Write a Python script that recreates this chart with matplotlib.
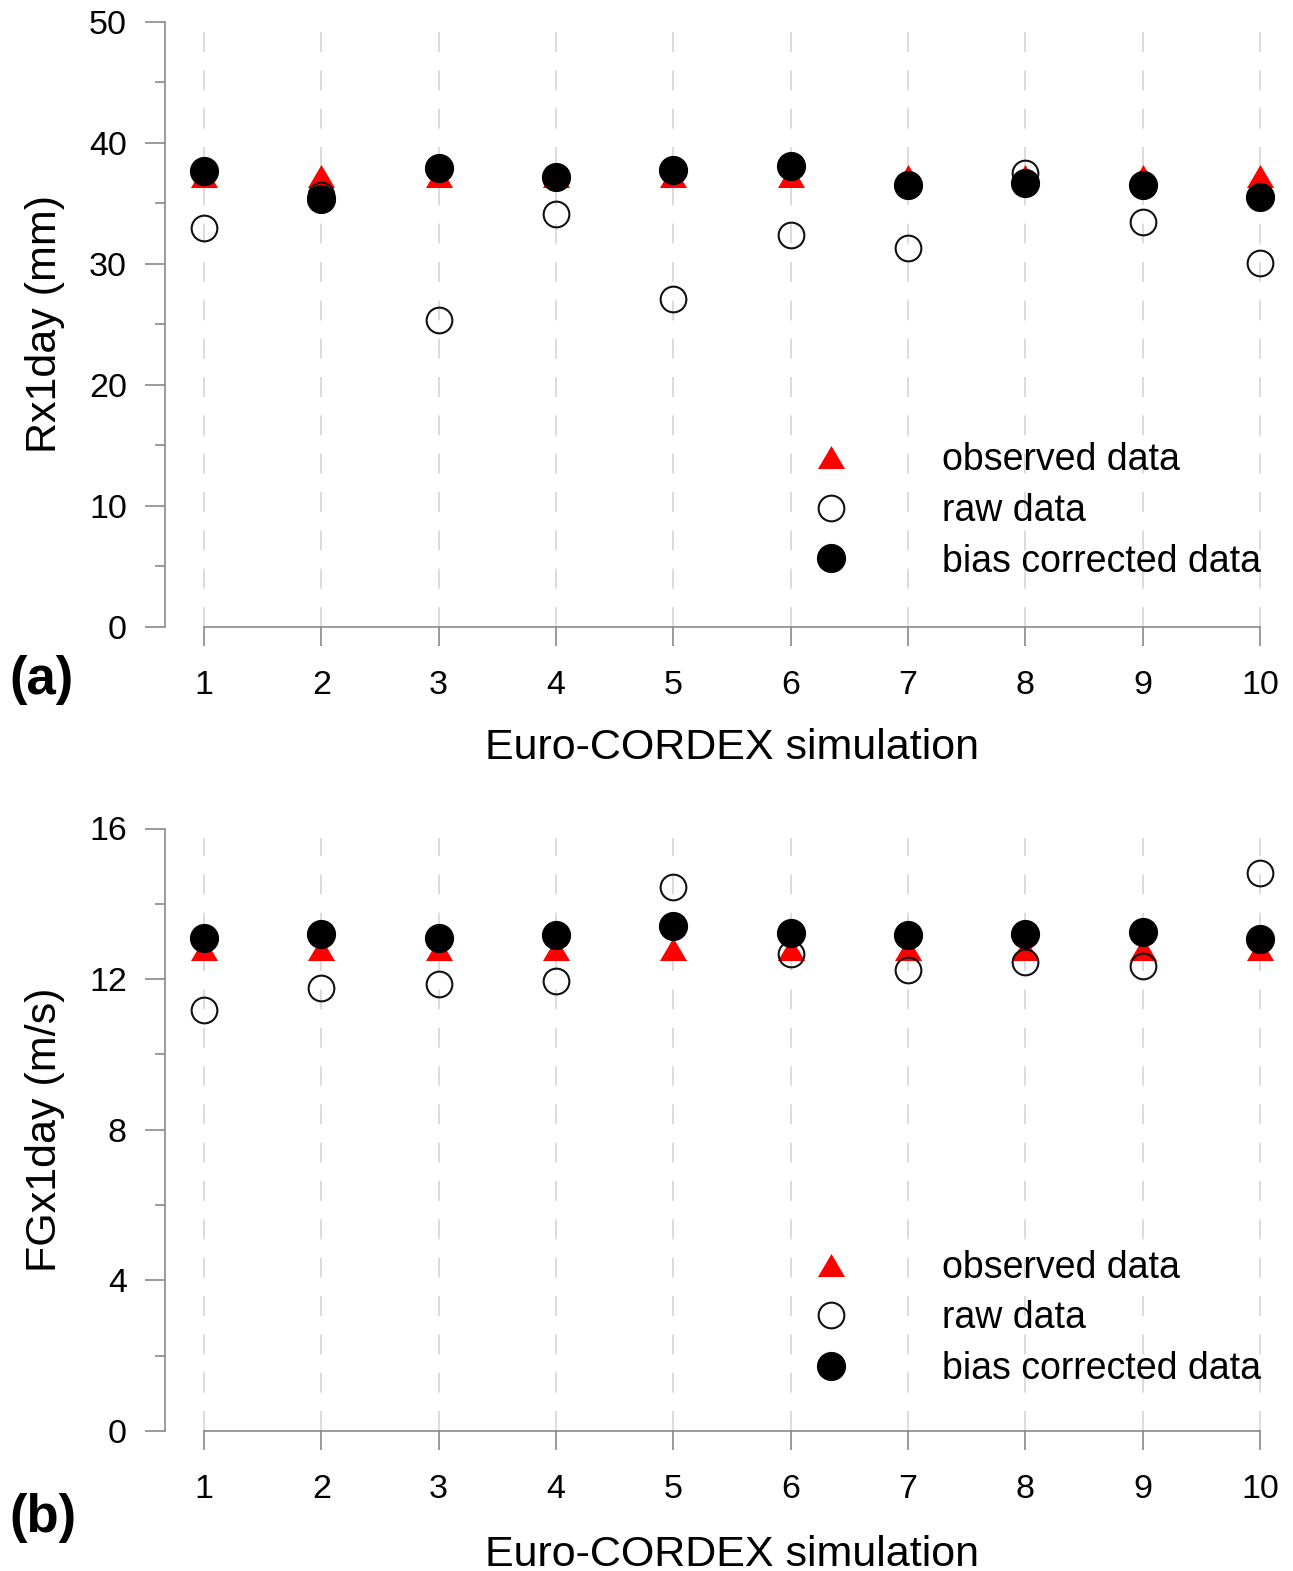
import numpy as np
import matplotlib
matplotlib.use("Agg")
import matplotlib.pyplot as plt
from matplotlib.lines import Line2D

plt.rcParams["font.family"] = ["Liberation Sans", "DejaVu Sans"]

# Euro-CORDEX simulations
sims = [1, 2, 3, 4, 5, 6, 7, 8, 9, 10]

# (a) Rx1day (mm)
rx_observed = [37.3, 37.3, 37.3, 37.3, 37.3, 37.3, 37.3, 37.3, 37.3, 37.3]
rx_raw = [33.0, 35.7, 25.4, 34.1, 27.1, 32.4, 31.3, 37.5, 33.5, 30.1]
rx_bias = [37.7, 35.4, 37.95, 37.2, 37.75, 38.1, 36.5, 36.7, 36.5, 35.5]

# (b) FGx1day (m/s)
fg_observed = [12.8, 12.8, 12.8, 12.8, 12.8, 12.8, 12.8, 12.8, 12.8, 12.8]
fg_raw = [11.18, 11.77, 11.86, 11.95, 14.45, 12.66, 12.24, 12.46, 12.36, 14.83]
fg_bias = [13.08, 13.21, 13.10, 13.17, 13.41, 13.23, 13.17, 13.21, 13.24, 13.06]

W, H = 1293, 1571
SPINE = "#808080"
GRID = "#d6d6d6"
TRI = [(-1, -0.85), (1, -0.85), (0, 0.85)]
FS = 24.5
LEG_FS = 27
LAB_FS = 31


def draw_panel(ax, obs, raw, bias, ymax, major, minor, grid_top, leg_y):
    ax.set_xlim(1 - 39 / 117.33, 10.2)
    ax.set_ylim(0, ymax)

    ax.vlines(sims, 0, grid_top, colors=GRID, linewidth=1.2,
              linestyles=(0, (12, 11)), zorder=1)

    ax.plot(sims, obs, linestyle="none", marker=TRI, markersize=19.5,
            color="red", markeredgewidth=0, zorder=3)
    ax.plot(sims, raw, linestyle="none", marker="o", markersize=18.5,
            markerfacecolor="none", markeredgecolor="#111111",
            markeredgewidth=1.5, zorder=4)
    ax.plot(sims, bias, linestyle="none", marker="o", markersize=20,
            color="black", zorder=5)

    for s in ["top", "right"]:
        ax.spines[s].set_visible(False)
    ax.spines["left"].set_bounds(0, ymax)
    ax.spines["bottom"].set_bounds(1, 10)
    for s in ["left", "bottom"]:
        ax.spines[s].set_color(SPINE)
        ax.spines[s].set_linewidth(1.1)

    ax.set_xticks(sims)
    ax.set_yticks(major)
    ax.set_yticks(minor, minor=True)
    ax.tick_params(axis="y", which="major", length=14.4, width=1.1,
                   color=SPINE, pad=13, labelsize=FS)
    ax.tick_params(axis="y", which="minor", length=7.2, width=1.1, color=SPINE)
    ax.tick_params(axis="x", length=14, width=1.1, color=SPINE, pad=17,
                   labelsize=FS)

    handles = [
        Line2D([], [], linestyle="none", marker=TRI, markersize=19.5,
               color="red", markeredgewidth=0),
        Line2D([], [], linestyle="none", marker="o", markersize=18.5,
               markerfacecolor="none", markeredgecolor="#111111",
               markeredgewidth=1.5),
        Line2D([], [], linestyle="none", marker="o", markersize=20,
               color="black"),
    ]
    ax.legend(handles, ["observed data", "raw data", "bias corrected data"],
              frameon=False, fontsize=LEG_FS, handlelength=2,
              handletextpad=1.96, labelspacing=0.39, borderpad=0,
              borderaxespad=0, loc="lower right",
              bbox_to_anchor=(0.98, leg_y))


fig = plt.figure(figsize=(W / 100, H / 100), dpi=100)
left = 165 / W
width = (10.2 - (1 - 39 / 117.33)) * 117.33 / W

ax1 = fig.add_axes([left, (H - 626.7) / H, width, 604.7 / H])
draw_panel(ax1, rx_observed, rx_raw, rx_bias, 50,
           [0, 10, 20, 30, 40, 50], [5, 15, 25, 35, 45], 49.2, 0.078)

ax2 = fig.add_axes([left, (H - 1431) / H, width, 602.5 / H])
draw_panel(ax2, fg_observed, fg_raw, fg_bias, 16,
           [0, 4, 8, 12, 16], [2, 6, 10, 14], 15.75, 0.073)

fig.text(45 / W, 1 - 324 / H, "Rx1day (mm)", rotation=90, ha="center",
         va="center", fontsize=LAB_FS)
fig.text(45 / W, 1 - 1130 / H, "FGx1day (m/s)", rotation=90, ha="center",
         va="center", fontsize=LAB_FS)
fig.text(732 / W, 1 - 748 / H, "Euro-CORDEX simulation", ha="center",
         va="center", fontsize=LAB_FS)
fig.text(732 / W, 1 - 1555 / H, "Euro-CORDEX simulation", ha="center",
         va="center", fontsize=LAB_FS)
fig.text(9 / W, 1 - 680 / H, "(a)", ha="left", va="center", fontsize=38,
         fontweight="bold")
fig.text(9 / W, 1 - 1518 / H, "(b)", ha="left", va="center", fontsize=38,
         fontweight="bold")

fig.savefig("out.png", dpi=100)
